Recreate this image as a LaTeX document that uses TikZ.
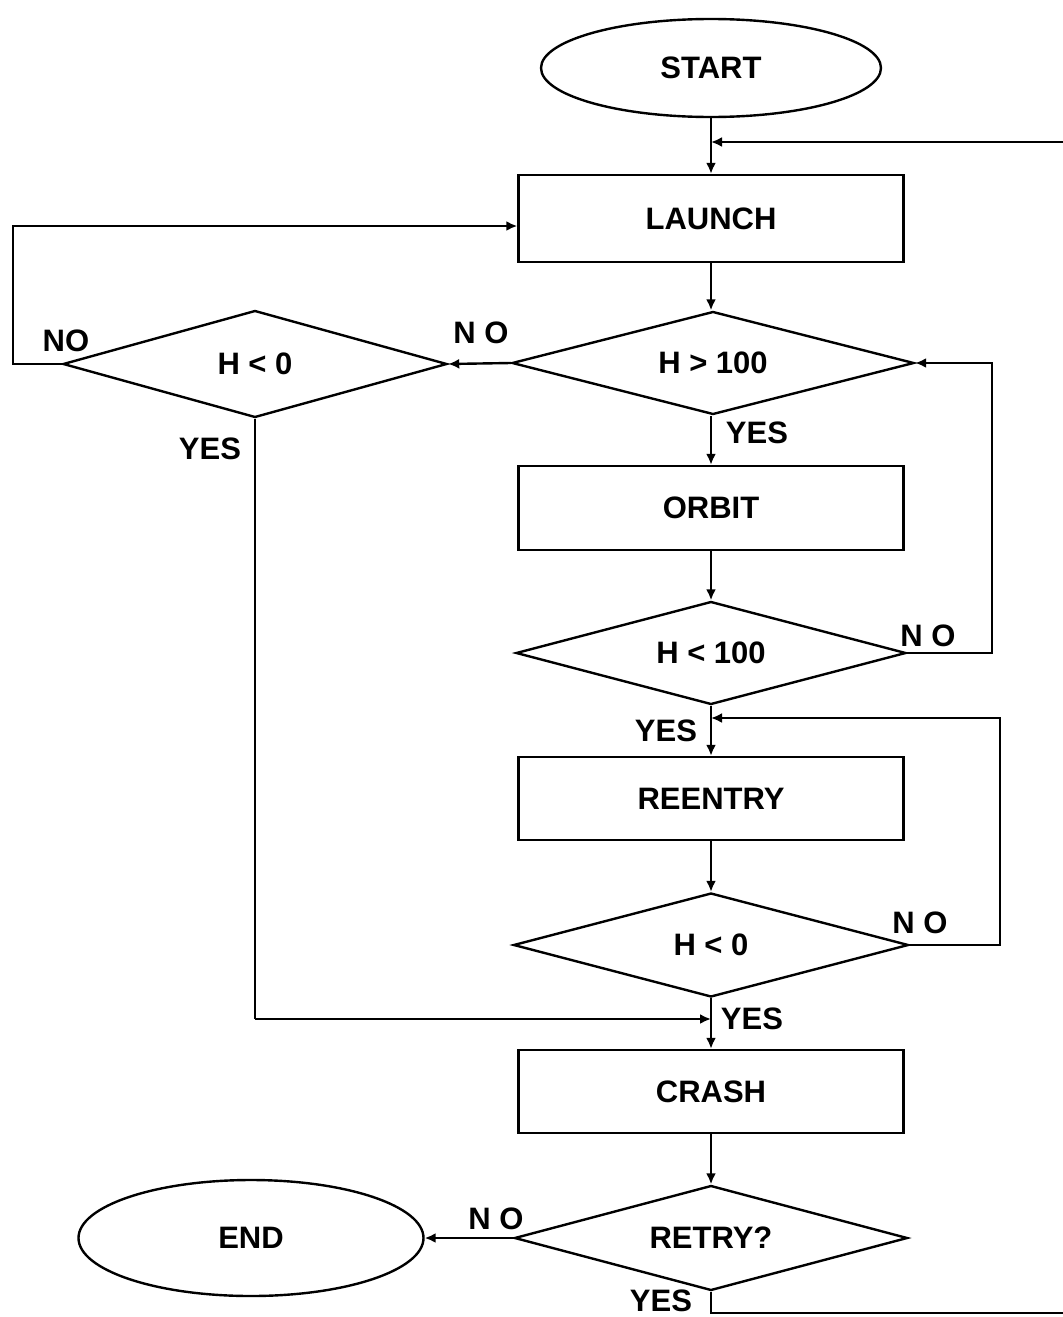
\documentclass[tikz,border=0pt]{standalone}
\usepackage{fontspec}
\setmainfont{Liberation Sans}
\usetikzlibrary{shapes.geometric,arrows.meta}
\begin{document}
\begin{tikzpicture}[x=0.5pt,y=-0.5pt,
  every node/.style={font=\bfseries\fontsize{15.5}{18}\selectfont},
  line/.style={line width=1.2pt},
  arr/.style={line width=1.2pt,-{Latex[length=5.5pt,width=5pt]}},
  procbox/.style={draw,line width=1.2pt,rectangle,minimum width=192.5pt,inner sep=0pt},
  decide/.style={draw,line width=1.2pt,diamond,aspect=4,inner sep=1pt},
  term/.style={draw,line width=1.2pt,ellipse,inner sep=0pt},
  lbl/.style={inner sep=0pt}]
\useasboundingbox (0,0) rectangle (1063,1317);
% nodes
\node[term,minimum width=170pt,minimum height=49pt] (start) at (711,68) {START};
\node[procbox,minimum height=43.5pt] (launch) at (711,218.5) {LAUNCH};
\node[decide,minimum width=201pt,minimum height=51.5pt] (d1) at (713,363) {H > 100};
\node[decide,minimum width=192pt,minimum height=53.5pt] (d0) at (255,364) {H < 0};
\node[procbox,minimum height=42pt] (orbit) at (711,508) {ORBIT};
\node[decide,minimum width=195pt,minimum height=51.5pt] (d2) at (711,653) {H < 100};
\node[procbox,minimum height=41.5pt] (reentry) at (711,798.5) {REENTRY};
\node[decide,minimum width=197.5pt,minimum height=52pt] (d3) at (711,945) {H < 0};
\node[procbox,minimum height=41.5pt] (crash) at (711,1091.5) {CRASH};
\node[decide,minimum width=196.5pt,minimum height=52.5pt] (d4) at (711,1238) {RETRY?};
\node[term,minimum width=172.5pt,minimum height=58pt] (end) at (251,1238) {END};
% junctions / free ends
\coordinate (jtop) at (711,142);
\coordinate (etop) at (1063,142);
\coordinate (jre) at (711,718);
\coordinate (jcr) at (711,1019);
\coordinate (ebot) at (1063,1313);
\coordinate (lp) at (13,226);
% connectors
\draw[arr] (start.south) -- (launch.north);
\draw[arr] (etop) -- (jtop);
\draw[arr] (launch.south) -- (launch.south |- d1.north);
\draw[arr] (d1.west) -- (d0.east);
\draw[arr] (d0.west) -- (lp |- d0.west) -- (lp) -- (launch.west |- lp);
\draw[line] (d0.south) -- (d0.south |- jcr);
\draw[arr] (d0.south |- jcr) -- (jcr);
\draw[arr] (d1.south -| orbit.north) -- (orbit.north);
\draw[arr] (orbit.south) -- (d2.north);
\draw[arr] (d2.east) -- (992,653) -- (992,363) -- (d1.east);
\draw[arr] (d2.south) -- (reentry.north);
\draw[arr] (d3.east) -- (1000,945) -- (1000,718) -- (jre);
\draw[arr] (reentry.south) -- (d3.north);
\draw[arr] (d3.south) -- (crash.north);
\draw[arr] (crash.south) -- (d4.north);
\draw[arr] (d4.west) -- (end.east);
\draw[line] (d4.south) -- (d4.south |- ebot) -- (ebot);
% labels
\node[lbl] (l1) at (66,341) {NO};
\node[lbl] (l2) at (481,333) {N O};
\node[lbl] (l3) at (210,449) {YES};
\node[lbl] (l4) at (757,433) {YES};
\node[lbl] (l5) at (928,636) {N O};
\node[lbl] (l6) at (666,731) {YES};
\node[lbl] (l7) at (920,923) {N O};
\node[lbl] (l8) at (752,1019) {YES};
\node[lbl] (l9) at (496,1219) {N O};
\node[lbl] (l10) at (661,1301) {YES};
\end{tikzpicture}
\end{document}
